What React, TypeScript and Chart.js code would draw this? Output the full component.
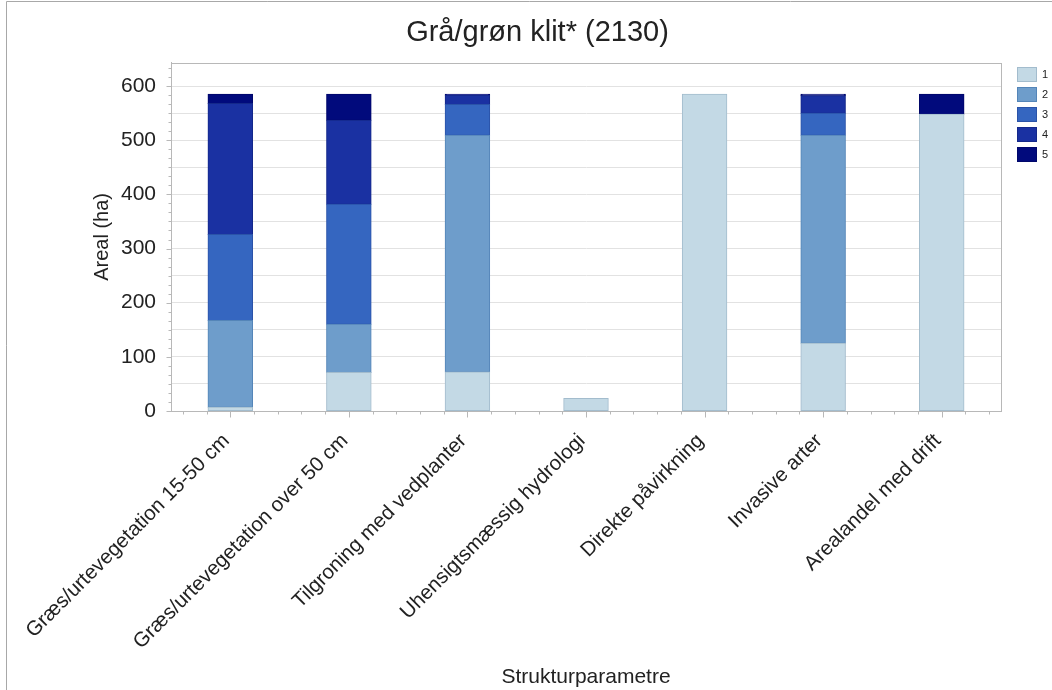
import React, { useEffect, useRef } from "react";
import { Chart, registerables } from "chart.js";

Chart.register(...registerables);

const TITLE = "Grå/grøn klit* (2130)";
const Y_TITLE = "Areal (ha)";
const X_TITLE = "Strukturparametre";
const CATEGORIES = [
  "Græs/urtevegetation 15-50 cm",
  "Græs/urtevegetation over 50 cm",
  "Tilgroning med vedplanter",
  "Uhensigtsmæssig hydrologi",
  "Direkte påvirkning",
  "Invasive arter",
  "Arealandel med drift",
];
const SERIES_LABELS = ["1", "2", "3", "4", "5"];
const S1 = [7, 71, 72, 23, 585, 125, 548];
const S2 = [160, 89, 437, 0, 0, 384, 0];
const S3 = [159, 222, 57, 0, 0, 41, 0];
const S4 = [242, 155, 17, 0, 0, 32, 0];
const S5 = [17, 48, 2, 0, 0, 3, 37];
const Y_MAX = 643;
const Y_GRID_VALUES = [0, 50, 100, 150, 200, 250, 300, 350, 400, 450, 500, 550, 600];

const FILLS = ["#c3d9e5", "#6e9dcb", "#3566c0", "#1a31a2", "#010a7c"];
const BORDERS = ["#a3bccd", "#5485b8", "#2a53a8", "#14288a", "#00076a"];
const FONT = "'Liberation Sans', Arial, sans-serif";
const TEXT = "#222222";
const AXIS = "#b8b8b8";

const decor = {
  id: "decor",
  afterDraw(chart: any) {
    const { ctx, chartArea: a } = chart;
    const y = chart.scales.y;
    ctx.save();
    ctx.lineWidth = 1;
    // outer frame (left + top)
    ctx.strokeStyle = "#a8a8a8";
    ctx.beginPath();
    ctx.moveTo(6.5, 690);
    ctx.lineTo(6.5, 1.5);
    ctx.lineTo(1052, 1.5);
    ctx.stroke();
    // plot border
    const L = Math.round(a.left) + 0.5;
    const R = Math.round(a.right) + 0.5;
    const T = Math.round(a.top) + 0.5;
    const B = Math.round(a.bottom) + 0.5;
    ctx.strokeStyle = AXIS;
    ctx.strokeRect(L, T, R - L, B - T);
    // y minor/major ticks
    ctx.beginPath();
    for (let k = 0; (k * 100) / 6 <= Y_MAX; k++) {
      const py = Math.round(y.getPixelForValue((k * 100) / 6)) + 0.5;
      const len = k % 6 === 0 ? 5 : 3;
      ctx.moveTo(L - len, py);
      ctx.lineTo(L, py);
    }
    // x ticks
    const n = CATEGORIES.length * 5;
    const w = (a.right - a.left) / n;
    for (let i = 0; i < n; i++) {
      const px = Math.round(a.left + (i + 0.5) * w) + 0.5;
      const len = i % 5 === 2 ? 6 : 3;
      ctx.moveTo(px, B);
      ctx.lineTo(px, B + len);
    }
    ctx.stroke();
    // legend
    const x0 = Math.round(a.right) + 16;
    const y0 = Math.round(a.top) + 4;
    ctx.font = "11px " + FONT;
    ctx.textBaseline = "middle";
    ctx.textAlign = "left";
    chart.data.datasets.forEach((ds: any, i: number) => {
      const by = y0 + i * 20;
      ctx.fillStyle = ds.backgroundColor;
      ctx.fillRect(x0, by, 20, 15);
      ctx.strokeStyle = ds.borderColor;
      ctx.strokeRect(x0 + 0.5, by + 0.5, 19, 14);
      ctx.fillStyle = TEXT;
      ctx.fillText(ds.label, x0 + 25, by + 8);
    });
    ctx.restore();
  },
};

export default function App() {
  const ref = useRef<HTMLCanvasElement>(null);
  useEffect(() => {
    if (!ref.current) return;
    const series = [S1, S2, S3, S4, S5];
    const chart = new Chart(ref.current, {
      type: "bar",
      data: {
        labels: CATEGORIES,
        datasets: series.map((d, i) => ({
          label: SERIES_LABELS[i],
          data: d,
          backgroundColor: FILLS[i],
          borderColor: BORDERS[i],
          borderWidth: 1,
          borderSkipped: false,
          inflateAmount: 0.5,
          barPercentage: 0.375,
          categoryPercentage: 1,
        })),
      },
      options: {
        responsive: false,
        animation: false,
        layout: { padding: { left: 74, right: 51, top: 0, bottom: 0 } },
        plugins: {
          legend: { display: false },
          tooltip: { enabled: false },
          title: {
            display: true,
            text: TITLE,
            color: TEXT,
            font: { family: FONT, size: 29, weight: "normal" },
            padding: { top: 16, bottom: 12 },
          },
        },
        scales: {
          x: {
            stacked: true,
            afterFit: (s: any) => {
              s.height = 279;
            },
            grid: { display: false },
            border: { color: AXIS },
            ticks: {
              minRotation: 45,
              maxRotation: 45,
              autoSkip: false,
              padding: 10,
              labelOffset: -4,
              color: TEXT,
              font: { family: FONT, size: 20.5 },
            },
            title: {
              display: true,
              text: X_TITLE,
              color: TEXT,
              font: { family: FONT, size: 21 },
              padding: { top: 0, bottom: 0 },
            },
          },
          y: {
            stacked: true,
            min: 0,
            max: Y_MAX,
            afterFit: (s: any) => {
              s.width = 97;
            },
            afterBuildTicks: (s: any) => {
              s.ticks = Y_GRID_VALUES.map((v) => ({ value: v }));
            },
            border: { color: AXIS },
            grid: {
              drawTicks: false,
              color: (c: any) =>
                c.tick && c.tick.value > 0 ? "#e2e2e2" : "rgba(0,0,0,0)",
            },
            ticks: {
              autoSkip: false,
              padding: 15,
              color: TEXT,
              font: { family: FONT, size: 21 },
              callback: (v: any) => (Number(v) % 100 === 0 ? String(v) : ""),
            },
            title: {
              display: true,
              text: Y_TITLE,
              color: TEXT,
              font: { family: FONT, size: 20 },
              padding: { top: 16, bottom: 0 },
            },
          },
        },
      },
      plugins: [decor],
    });
    return () => chart.destroy();
  }, []);
  return (
    <div style={{ position: "fixed", left: 0, top: 0, width: 1052, height: 690, background: "#fff" }}>
      <canvas ref={ref} width={1052} height={690} />
    </div>
  );
}
